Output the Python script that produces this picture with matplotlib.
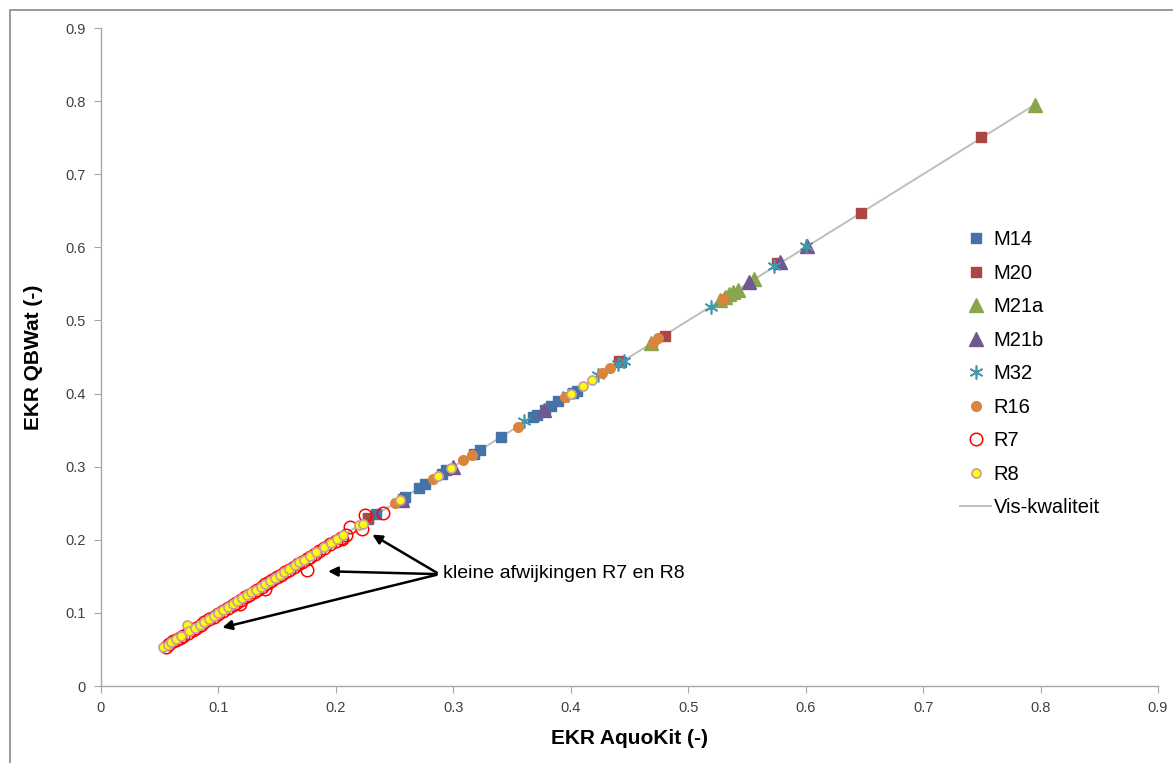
import numpy as np
import matplotlib.pyplot as plt
from matplotlib.patches import Rectangle

plt.rcParams['font.family'] = ['Liberation Sans', 'DejaVu Sans']

# data (EKR AquoKit vs EKR QBWat)
m14_x = [0.227, 0.234, 0.257, 0.259, 0.271, 0.276, 0.290, 0.294, 0.318, 0.323, 0.341,
         0.368, 0.371, 0.378, 0.383, 0.389, 0.402, 0.405, 0.443]
m14_y = [0.228, 0.235, 0.256, 0.258, 0.271, 0.276, 0.290, 0.295, 0.318, 0.323, 0.341,
         0.368, 0.371, 0.378, 0.383, 0.390, 0.401, 0.404, 0.443]
m20_x = [0.227, 0.441, 0.480, 0.576, 0.647, 0.749]
m20_y = [0.230, 0.444, 0.479, 0.579, 0.647, 0.751]
m21a_x = [0.468, 0.527, 0.531, 0.535, 0.538, 0.542, 0.556, 0.795]
m21a_y = [0.469, 0.528, 0.532, 0.536, 0.539, 0.542, 0.557, 0.795]
m21b_x = [0.256, 0.300, 0.377, 0.552, 0.578, 0.601]
m21b_y = [0.255, 0.300, 0.378, 0.553, 0.580, 0.602]
m32_x = [0.360, 0.398, 0.423, 0.440, 0.445, 0.519, 0.573, 0.600]
m32_y = [0.362, 0.398, 0.425, 0.441, 0.445, 0.519, 0.574, 0.602]
r16_x = [0.250, 0.283, 0.308, 0.316, 0.355, 0.395, 0.427, 0.433, 0.470, 0.474, 0.530]
r16_y = [0.250, 0.283, 0.309, 0.316, 0.354, 0.395, 0.428, 0.435, 0.469, 0.476, 0.530]
r7_x = [0.055, 0.058, 0.061, 0.064, 0.067, 0.070, 0.074, 0.078, 0.081, 0.085, 0.088,
        0.092, 0.096, 0.100, 0.104, 0.108, 0.112, 0.115, 0.119, 0.123, 0.126, 0.130,
        0.133, 0.137, 0.140, 0.143, 0.146, 0.150, 0.153, 0.157, 0.160, 0.164, 0.168,
        0.171, 0.175, 0.178, 0.182, 0.186, 0.190, 0.195, 0.200, 0.204, 0.209, 0.212,
        0.222, 0.225, 0.240, 0.175, 0.140, 0.118, 0.205]
r7_y = [0.054, 0.057, 0.061, 0.063, 0.066, 0.069, 0.073, 0.077, 0.080, 0.084, 0.087,
        0.091, 0.095, 0.099, 0.103, 0.107, 0.111, 0.114, 0.118, 0.122, 0.125, 0.129,
        0.132, 0.136, 0.139, 0.142, 0.145, 0.149, 0.152, 0.156, 0.159, 0.163, 0.167,
        0.170, 0.174, 0.177, 0.181, 0.185, 0.189, 0.194, 0.199, 0.203, 0.207, 0.218,
        0.215, 0.234, 0.237, 0.159, 0.133, 0.112, 0.201]
r8_x = [0.053, 0.057, 0.060, 0.064, 0.068, 0.073, 0.075, 0.080, 0.084, 0.088, 0.092,
        0.096, 0.100, 0.104, 0.108, 0.112, 0.116, 0.120, 0.124, 0.128, 0.132, 0.136,
        0.140, 0.144, 0.148, 0.152, 0.156, 0.160, 0.165, 0.169, 0.173, 0.178, 0.183,
        0.190, 0.196, 0.201, 0.206, 0.220, 0.223, 0.255, 0.287, 0.298, 0.400, 0.410, 0.418]
r8_y = [0.053, 0.056, 0.060, 0.064, 0.068, 0.083, 0.075, 0.080, 0.084, 0.088, 0.092,
        0.096, 0.100, 0.104, 0.108, 0.112, 0.116, 0.120, 0.124, 0.128, 0.132, 0.136,
        0.140, 0.144, 0.148, 0.152, 0.156, 0.160, 0.165, 0.169, 0.173, 0.178, 0.183,
        0.190, 0.196, 0.201, 0.206, 0.220, 0.222, 0.254, 0.287, 0.298, 0.400, 0.410, 0.418]
line_x = [0.053, 0.795]
line_y = [0.053, 0.795]

fig = plt.figure(figsize=(11.73, 7.63), dpi=100)
ax = fig.add_axes([0.0861, 0.1009, 0.9011, 0.8624])

grey = '#BEBEBE'
ax.plot(line_x, line_y, color=grey, lw=1.4, label='Vis-kwaliteit', zorder=1)
ax.plot(m14_x, m14_y, 's', ms=6.5, color='#4572A7', mec='#4572A7', label='M14', zorder=3)
ax.plot(m20_x, m20_y, 's', ms=6.5, color='#AA4643', mec='#AA4643', label='M20', zorder=3)
ax.plot(m21a_x, m21a_y, '^', ms=9.5, color='#89A54E', mec='#89A54E', label='M21a', zorder=3)
ax.plot(m21b_x, m21b_y, '^', ms=9.5, color='#71588F', mec='#71588F', label='M21b', zorder=3)
ax.plot(m32_x, m32_y, linestyle='none', marker=(6, 2, 0), ms=10, mew=1.2,
        color='#4198AF', label='M32', zorder=3)
ax.plot(r16_x, r16_y, 'o', ms=7, color='#DB843D', mec='#DB843D', label='R16', zorder=3)
ax.plot(r7_x, r7_y, 'o', ms=9, mfc='none', mec='#FF0000', mew=1.1, label='R7', zorder=4)
ax.plot(r8_x, r8_y, 'o', ms=6.5, mfc='#FFFF00', mec='#C8A0A0', mew=1.3, label='R8', zorder=5)

ax.set_xlim(0, 0.9)
ax.set_ylim(0, 0.9)
ticks = [0, 0.1, 0.2, 0.3, 0.4, 0.5, 0.6, 0.7, 0.8, 0.9]
ax.set_xticks(ticks)
ax.set_yticks(ticks)
ax.set_xticklabels(['0', '0.1', '0.2', '0.3', '0.4', '0.5', '0.6', '0.7', '0.8', '0.9'])
ax.set_yticklabels(['0', '0.1', '0.2', '0.3', '0.4', '0.5', '0.6', '0.7', '0.8', '0.9'])
for s in ['top', 'right']:
    ax.spines[s].set_visible(False)
for s in ['left', 'bottom']:
    ax.spines[s].set_color('#A6A6A6')
    ax.spines[s].set_linewidth(1.0)
ax.tick_params(colors='#A6A6A6', labelcolor='#404040', labelsize=10.5, length=5, direction='out')
ax.tick_params(axis='x', pad=6)
ax.tick_params(axis='y', pad=6)

ax.set_xlabel('EKR AquoKit (-)', fontsize=15, fontweight='bold', labelpad=10)
ax.set_ylabel('EKR QBWat (-)', fontsize=15, fontweight='bold', labelpad=16)

handles, labels = ax.get_legend_handles_labels()
order = [1, 2, 3, 4, 5, 6, 7, 8, 0]
ax.legend([handles[i] for i in order], [labels[i] for i in order],
          loc='upper left', bbox_to_anchor=(0.796, 0.72), frameon=False,
          fontsize=14.5, labelspacing=0.72, handlelength=1.5, handletextpad=0.15)

txt_xy = (0.291, 0.142)
for tgt in [(0.229, 0.209), (0.191, 0.157), (0.101, 0.079)]:
    ax.annotate('', xy=tgt, xytext=(0.288, 0.153),
                arrowprops=dict(arrowstyle='-|>', color='black', lw=1.8, mutation_scale=14))
ax.text(txt_xy[0], txt_xy[1], 'kleine afwijkingen R7 en R8', fontsize=14, va='bottom', ha='left')

fig.patches.append(Rectangle((10 / 1173, -0.1), 1.2, 1 - 10 / 763 + 0.1, transform=fig.transFigure,
                             fill=False, edgecolor='#888888', lw=1.2))

fig.savefig('out.png', dpi=100)
